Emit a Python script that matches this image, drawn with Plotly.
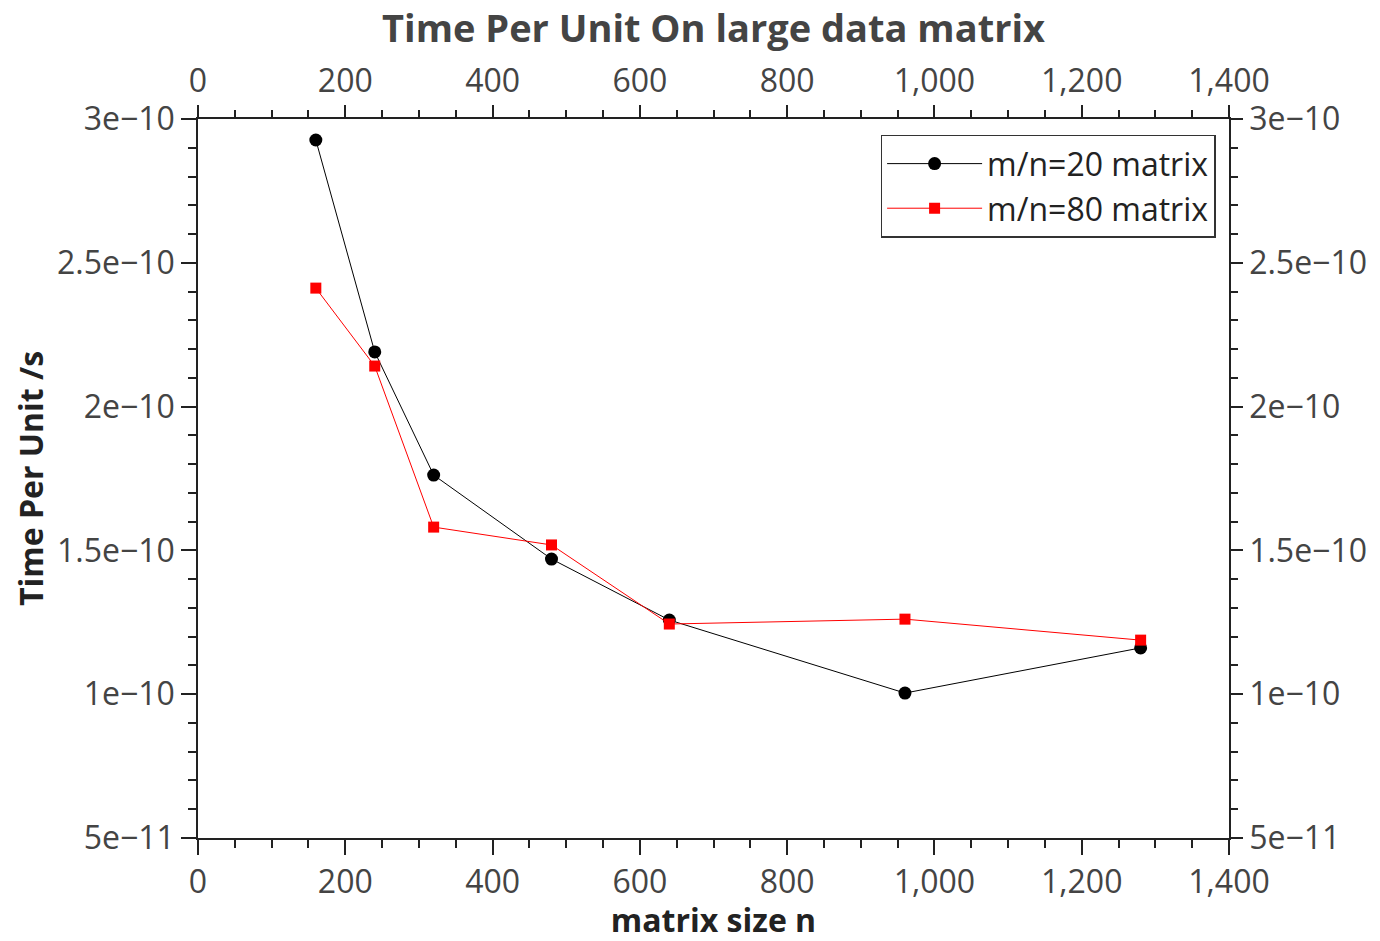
import plotly.graph_objects as go

# Data
matrix_size = [160, 240, 320, 480, 640, 960, 1280]
time_mn20 = [2.927e-10, 2.19e-10, 1.762e-10, 1.47e-10, 1.258e-10, 1.004e-10, 1.161e-10]
time_mn80 = [2.412e-10, 2.141e-10, 1.581e-10, 1.519e-10, 1.244e-10, 1.261e-10, 1.188e-10]
y_tickvals = [5e-11, 1e-10, 1.5e-10, 2e-10, 2.5e-10, 3e-10]
y_ticktext = ["5e\u221211", "1e\u221210", "1.5e\u221210", "2e\u221210", "2.5e\u221210", "3e\u221210"]
series_names = ["m/n=20 matrix", "m/n=80 matrix"]

FONT = "Open Sans"
TXT = "#444444"
AX = "#222222"

fig = go.Figure()
fig.add_trace(go.Scatter(
    x=matrix_size, y=time_mn20, name=series_names[0], mode="lines+markers",
    line=dict(color="black", width=1),
    marker=dict(symbol="circle", size=13, color="black"),
))
fig.add_trace(go.Scatter(
    x=matrix_size, y=time_mn80, name=series_names[1], mode="lines+markers",
    line=dict(color="#ff0000", width=1),
    marker=dict(symbol="square", size=11, color="#ff0000"),
))

xr = [0, 1400]
yr = [5e-11, 3e-10]

common_x = dict(
    range=xr, tickmode="linear", tick0=0, dtick=200, tickformat=",d",
    showline=True, linecolor=AX, linewidth=1.5, showgrid=False, zeroline=False,
    ticks="outside", tickcolor=AX, tickwidth=1.5, automargin=False,
    tickfont=dict(family=FONT, size=32, color=TXT),
)
common_y = dict(
    range=yr, tickmode="array", tickvals=y_tickvals, ticktext=y_ticktext,
    showline=True, linecolor=AX, linewidth=1.5, showgrid=False, zeroline=False,
    ticks="outside", tickcolor=AX, tickwidth=1.5, automargin=False,
    tickfont=dict(family=FONT, size=32, color=TXT),
)

fig.update_layout(
    width=1380, height=941,
    margin=dict(l=198, r=151, t=119, b=103),
    paper_bgcolor="white", plot_bgcolor="white",
    title=dict(text="<b>Time Per Unit On large data matrix</b>", x=0.5, xref="paper",
               y=0.970, yanchor="middle",
               font=dict(family=FONT, size=38, color=TXT)),
    xaxis=dict(**common_x, ticklen=15,
               minor=dict(tickmode="linear", tick0=0, dtick=50, ticks="outside", ticklen=8,
                          tickcolor=AX, tickwidth=1.5),
               title=dict(text="<b>matrix size n</b>", font=dict(family=FONT, size=32, color="#222222"),
                          standoff=16)),
    yaxis=dict(**common_y, ticklen=15,
               minor=dict(tickmode="linear", tick0=0, dtick=1e-11, ticks="outside", ticklen=8,
                          tickcolor=AX, tickwidth=1.5),
               title=dict(text="<b>Time Per Unit /s</b>", font=dict(family=FONT, size=32, color="#222222"),
                          standoff=4)),
    xaxis2=dict(**common_x, overlaying="x", side="top", anchor="y", ticklen=12,
                minor=dict(tickmode="linear", tick0=0, dtick=50, ticks="outside", ticklen=7,
                           tickcolor=AX, tickwidth=1.5)),
    yaxis2=dict(**common_y, overlaying="y", side="right", anchor="x", ticklen=12,
                minor=dict(tickmode="linear", tick0=0, dtick=1e-11, ticks="outside", ticklen=7,
                           tickcolor=AX, tickwidth=1.5)),
    legend=dict(x=0.987, y=0.978, xanchor="right", yanchor="top",
                bgcolor="white", bordercolor="#333333", borderwidth=1.5,
                font=dict(family=FONT, size=32, color="#222222"),
                itemwidth=95, tracegroupgap=0),
    showlegend=True,
)

# invisible trace so the mirrored axes are drawn
fig.add_trace(go.Scatter(x=[matrix_size[0]], y=[time_mn20[0]], xaxis="x2", yaxis="y2",
                         mode="markers", marker=dict(opacity=0), showlegend=False, hoverinfo="skip"))

fig.write_html("out.html")
